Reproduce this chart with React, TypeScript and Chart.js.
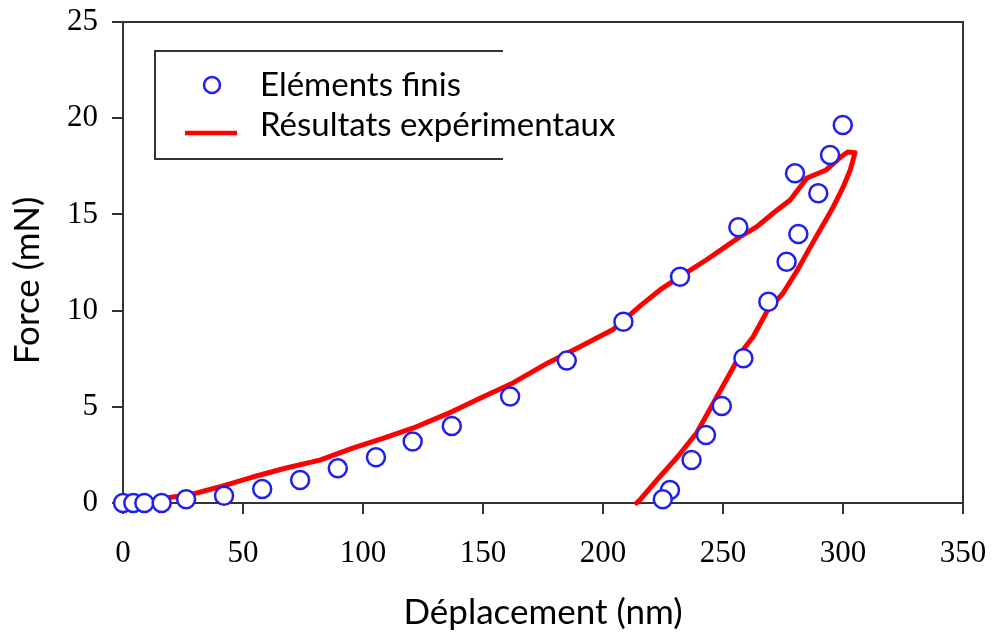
import React, { useEffect, useRef } from "react";
import { Chart, registerables } from "chart.js";

Chart.register(...registerables);

// Finite element results (circles)
const feX = [0, 4.3, 8.9, 16.1, 26.3, 42.1, 58, 73.8, 89.5, 105.4, 120.7, 137, 161.3, 184.9, 208.5, 232.1, 256.4, 280, 299.9, 294.6, 289.7, 281.4, 276.5, 268.9, 258.5, 249.5, 242.9, 236.9, 227.9, 224.9];
const feY = [0, 0, 0, 0, 0.19, 0.38, 0.73, 1.19, 1.8, 2.38, 3.2, 4.0, 5.53, 7.4, 9.42, 11.76, 14.33, 17.14, 19.65, 18.09, 16.1, 13.98, 12.54, 10.46, 7.52, 5.04, 3.53, 2.23, 0.68, 0.19];

// Experimental results (loading then unloading)
const expX = [0, 10, 20, 27, 40, 54, 68, 82, 96, 108, 121, 135, 149, 162.5, 177, 190, 204, 216, 224, 232, 243, 257, 264, 271, 278, 285, 293, 299, 302, 305, 303, 300, 296, 290.5, 285, 281, 275, 268.5, 262.5, 258.3, 253, 246, 239, 231, 222.5, 215.4, 214];
const expY = [0, 0.1, 0.3, 0.4, 0.83, 1.35, 1.82, 2.23, 2.86, 3.35, 3.9, 4.63, 5.46, 6.24, 7.28, 8.1, 9.0, 10.3, 11.1, 11.75, 12.63, 13.83, 14.35, 15.07, 15.75, 16.89, 17.31, 17.98, 18.24, 18.2, 17.3, 16.4, 15.4, 14.2, 13.0, 12.1, 10.9, 10.0, 8.63, 7.95, 6.76, 5.2, 3.64, 2.39, 1.2, 0.16, 0];

const xTicks = [0, 50, 100, 150, 200, 250, 300, 350];
const yTicks = [0, 5, 10, 15, 20, 25];

const seriesLabels = ["Eléments finis", "Résultats expérimentaux"];
const xTitle = "Déplacement (nm)";
const yTitle = "Force (mN)";

const BLUE = "#1f1ff0";
const RED = "#ff0000";
const AXIS = "#333333";
const SANS = "Lato, 'Liberation Sans', sans-serif";
const SERIF = "'Liberation Serif', 'Times New Roman', serif";

const framePlugin = {
  id: "frame",
  afterDatasetsDraw(chart: any) {
    const { ctx, chartArea: a } = chart;
    ctx.save();
    ctx.strokeStyle = AXIS;
    ctx.lineWidth = 2;
    ctx.beginPath();
    ctx.moveTo(a.left, a.top);
    ctx.lineTo(a.right, a.top);
    ctx.lineTo(a.right, a.bottom);
    ctx.stroke();
    ctx.restore();
  },
};

const legendPlugin = {
  id: "boxLegend",
  afterDraw(chart: any) {
    const { ctx, chartArea: a } = chart;
    const left = a.left + 32;
    const top = a.top + 29;
    const right = a.left + 380;
    const bottom = a.top + 137;
    ctx.save();
    ctx.strokeStyle = AXIS;
    ctx.lineWidth = 2;
    ctx.beginPath();
    ctx.moveTo(right, top);
    ctx.lineTo(left, top);
    ctx.lineTo(left, bottom);
    ctx.lineTo(right, bottom);
    ctx.stroke();

    // circle marker
    ctx.strokeStyle = BLUE;
    ctx.lineWidth = 2.5;
    ctx.beginPath();
    ctx.arc(left + 57, top + 34, 8, 0, Math.PI * 2);
    ctx.stroke();

    // red line marker
    ctx.strokeStyle = RED;
    ctx.lineWidth = 4.5;
    ctx.beginPath();
    ctx.moveTo(left + 30, top + 82);
    ctx.lineTo(left + 82, top + 82);
    ctx.stroke();

    ctx.fillStyle = "#000";
    ctx.font = `33px ${SANS}`;
    ctx.textBaseline = "alphabetic";
    ctx.textAlign = "left";
    const labels = chart.data.datasets.map((d: any) => d.label);
    ctx.fillText(labels[0], left + 105, top + 45);
    ctx.fillText(labels[1], left + 105, top + 85);
    ctx.restore();
  },
};

export default function App() {
  const ref = useRef<HTMLCanvasElement | null>(null);

  useEffect(() => {
    if (!ref.current) return;
    const chart = new Chart(ref.current, {
      type: "scatter",
      data: {
        datasets: [
          {
            label: seriesLabels[0],
            data: feX.map((x, i) => ({ x, y: feY[i] })),
            pointStyle: "circle",
            pointRadius: 9,
            pointBorderWidth: 2.5,
            pointBorderColor: BLUE,
            pointBackgroundColor: "#ffffff",
            showLine: false,
            clip: false as any,
          },
          {
            label: seriesLabels[1],
            data: expX.map((x, i) => ({ x, y: expY[i] })),
            showLine: true,
            borderColor: RED,
            borderWidth: 5,
            pointRadius: 0,
            tension: 0,
            borderJoinStyle: "round",
            borderCapStyle: "round",
            clip: false as any,
          },
        ],
      },
      options: {
        animation: false,
        responsive: false,
        layout: { padding: { top: 22, right: 29, left: 0, bottom: 0 } },
        plugins: {
          legend: { display: false },
          tooltip: { enabled: false },
        },
        scales: {
          x: {
            type: "linear",
            min: 0,
            max: 350,
            afterBuildTicks: (s: any) => {
              s.ticks = xTicks.map((v) => ({ value: v }));
            },
            afterFit: (s: any) => {
              s.height = 131;
              s.paddingLeft = 0;
              s.paddingRight = 0;
            },
            ticks: {
              color: "#000",
              font: { family: SERIF, size: 31 },
              padding: 21,
            },
            grid: {
              display: true,
              drawOnChartArea: false,
              drawTicks: true,
              tickLength: 11,
              color: AXIS,
              lineWidth: 2,
            },
            border: { display: true, color: AXIS, width: 2 },
            title: {
              display: true,
              text: xTitle,
              color: "#000",
              font: { family: SANS, size: 35 },
              padding: { top: 0, bottom: 0 },
            },
          },
          y: {
            type: "linear",
            min: 0,
            max: 25,
            afterBuildTicks: (s: any) => {
              s.ticks = yTicks.map((v) => ({ value: v }));
            },
            afterFit: (s: any) => {
              s.width = 123;
              s.paddingTop = 0;
              s.paddingBottom = 0;
            },
            ticks: {
              color: "#000",
              font: { family: SERIF, size: 31 },
              padding: 14,
            },
            grid: {
              display: true,
              drawOnChartArea: false,
              drawTicks: true,
              tickLength: 11,
              color: AXIS,
              lineWidth: 2,
            },
            border: { display: true, color: AXIS, width: 2 },
            title: {
              display: true,
              text: yTitle + "    ",
              color: "#000",
              font: { family: SANS, size: 35 },
              padding: { top: 7, bottom: 0 },
            },
          },
        },
      },
      plugins: [framePlugin, legendPlugin],
    });
    return () => chart.destroy();
  }, []);

  return (
    <div style={{ position: "absolute", left: 0, top: 0, width: 992, height: 634, background: "#fff" }}>
      <canvas ref={ref} width={992} height={634} />
    </div>
  );
}
